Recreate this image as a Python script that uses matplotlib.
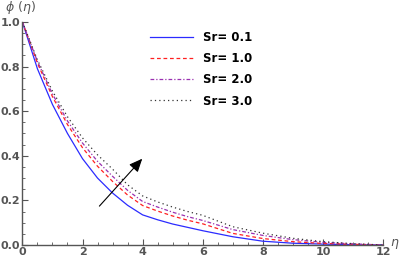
import numpy as np
import matplotlib
matplotlib.use("Agg")
import matplotlib.pyplot as plt
from matplotlib.ticker import MultipleLocator

# values
eta = [0, 0.5, 1, 1.5, 2, 2.5, 3, 3.5, 4, 4.5, 5, 5.5, 6, 7, 8, 9, 10, 11, 12]
phi_01 = [1.0, 0.79, 0.63, 0.50, 0.387, 0.30, 0.233, 0.178, 0.135, 0.113, 0.094, 0.079, 0.064, 0.037, 0.017, 0.008, 0.004, 0.001, 0.0]
phi_10 = [1.0, 0.815, 0.665, 0.540, 0.436, 0.353, 0.285, 0.224, 0.177, 0.152, 0.130, 0.111, 0.095, 0.052, 0.029, 0.015, 0.007, 0.003, 0.0]
phi_20 = [1.0, 0.823, 0.677, 0.556, 0.457, 0.375, 0.308, 0.245, 0.195, 0.170, 0.147, 0.127, 0.110, 0.069, 0.043, 0.024, 0.012, 0.005, 0.0]
phi_30 = [1.0, 0.83, 0.69, 0.575, 0.48, 0.404, 0.34, 0.27, 0.22, 0.193, 0.170, 0.150, 0.133, 0.082, 0.053, 0.030, 0.015, 0.006, 0.0]
labels = ["Sr= 0.1", "Sr= 1.0", "Sr= 2.0", "Sr= 3.0"]

gray = "#555555"

fig = plt.figure(figsize=(4, 2.64), dpi=100)
ax = fig.add_axes([0.056, 0.072, 0.9015, 0.845])

ax.plot(eta, phi_01, color="#2b2bff", lw=0.9, ls="-", label=labels[0])
ax.plot(eta, phi_10, color="#ff2020", lw=0.9, ls=(0, (3, 2.2)), label=labels[1])
ax.plot(eta, phi_20, color="#9a30b0", lw=0.9, ls=(0, (3, 1.6, 1, 1.6)), label=labels[2])
ax.plot(eta, phi_30, color="#333333", lw=0.9, ls=(0, (1, 2.5)), label=labels[3])

# arrow showing increasing Sr
ax.annotate("", xy=(4.05, 0.396), xytext=(2.5, 0.165),
            arrowprops=dict(arrowstyle="-|>,head_length=0.8,head_width=0.35",
                            color="black", lw=0.8))

ax.set_xlim(0, 12)
ax.set_ylim(0, 1)
for s in ["top", "right"]:
    ax.spines[s].set_visible(False)
for s in ["left", "bottom"]:
    ax.spines[s].set_color(gray)
    ax.spines[s].set_linewidth(1.0)

ax.xaxis.set_minor_locator(MultipleLocator(0.5))
ax.yaxis.set_minor_locator(MultipleLocator(0.05))
ax.set_xticks([0, 2, 4, 6, 8, 10, 12])
ax.set_xticklabels(["0", "2", "4", "6", "8", "10", "12"])
ax.set_yticks([0, 0.2, 0.4, 0.6, 0.8, 1.0])
ax.set_yticklabels(["0.0", "0.2", "0.4", "0.6", "0.8", "1.0"])
ax.tick_params(which="major", direction="in", length=4, width=0.8, color=gray,
               labelcolor=gray, labelsize=8, pad=1.5)
ax.tick_params(which="minor", direction="in", length=2, width=0.6, color=gray)
for t in ax.get_xticklabels() + ax.get_yticklabels():
    t.set_fontweight("bold")

fig.text(0.012, 0.972, r"$\phi\ (\eta)$", color=gray, fontsize=9, ha="left", va="center")
fig.text(0.975, 0.075, r"$\eta$", color=gray, fontsize=9, ha="left", va="center")

leg = ax.legend(loc="upper left", bbox_to_anchor=(0.325, 1.005), frameon=False,
                handlelength=3.6, labelspacing=0.68, handletextpad=0.9,
                prop={"weight": "bold", "size": 8.5})

fig.savefig("out.png", dpi=100)
